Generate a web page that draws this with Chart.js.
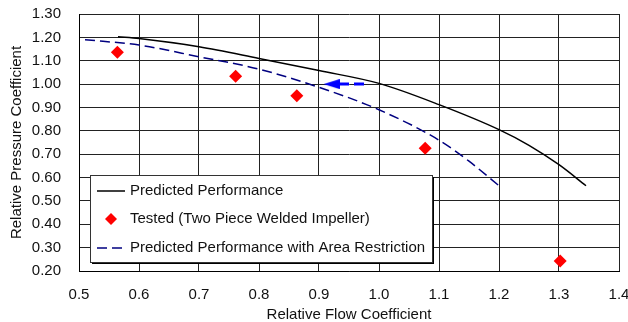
<!DOCTYPE html>
<html>
<head>
<meta charset="utf-8">
<script src="https://cdn.jsdelivr.net/npm/chart.js@4.4.1/dist/chart.umd.min.js"></script>
<style>
  html, body { margin: 0; padding: 0; background: #fff; }
  canvas { display: block; }
</style>
</head>
<body>
<canvas id="perfChart" width="628" height="322"></canvas>
<script>
// Predicted Performance (solid)
const predFlow     = [0.565, 0.60, 0.70, 0.80, 0.90, 1.00, 1.10, 1.20, 1.25, 1.30, 1.345];
const predPressure = [1.203, 1.195, 1.160, 1.110, 1.058, 1.003, 0.912, 0.805, 0.738, 0.655, 0.565];

// Predicted Performance with Area Restriction (dashed)
const areaFlow     = [0.51, 0.60, 0.70, 0.80, 0.90, 1.00, 1.10, 1.15, 1.20];
const areaPressure = [1.190, 1.167, 1.117, 1.064, 0.986, 0.890, 0.760, 0.670, 0.565];

// Tested (Two Piece Welded Impeller)
const testFlow     = [0.564, 0.761, 0.863, 1.077, 1.302];
const testPressure = [1.136, 1.034, 0.950, 0.725, 0.243];

// blue arrow (moving left along 1.00)
const arrowFlow     = [0.975, 0.921];
const arrowPressure = [1.00, 1.00];

const seriesLabels = [
  'Predicted Performance',
  'Tested (Two Piece Welded Impeller)',
  'Predicted Performance with Area Restriction'
];

const FONT = "'Liberation Sans', Arial, sans-serif";
const TXT = '#111';

function toPoints(xs, ys) {
  return xs.map((x, i) => ({ x: x, y: ys[i] }));
}

// arrow head as a little canvas used for pointStyle
const arrowHead = document.createElement('canvas');
arrowHead.width = 16;
arrowHead.height = 10;
(function () {
  const c = arrowHead.getContext('2d');
  c.fillStyle = '#0000ff';
  c.beginPath();
  c.moveTo(0, 5);
  c.lineTo(16, 0);
  c.lineTo(16, 10);
  c.closePath();
  c.fill();
})();

// legend box drawn inside the plot area
const boxLegend = {
  id: 'boxLegend',
  afterDraw(chart) {
    const ctx = chart.ctx;
    const area = chart.chartArea;
    const x0 = area.left + 11;
    const y0 = area.bottom - 96;
    const w = 342, h = 87;
    ctx.save();
    ctx.fillStyle = '#000';
    ctx.fillRect(x0 + 2, y0 + 2, w, h);
    ctx.fillStyle = '#fff';
    ctx.fillRect(x0, y0, w, h);
    ctx.strokeStyle = '#333';
    ctx.lineWidth = 1;
    ctx.strokeRect(x0 + 0.5, y0 + 0.5, w, h);

    const rows = [y0 + 16, y0 + 44, y0 + 73];
    const sx = x0 + 7, ex = x0 + 35;

    // solid line sample
    ctx.strokeStyle = '#000';
    ctx.lineWidth = 1.5;
    ctx.beginPath();
    ctx.moveTo(sx, rows[0]);
    ctx.lineTo(ex, rows[0]);
    ctx.stroke();

    // diamond sample
    ctx.fillStyle = '#ff0000';
    const cx = (sx + ex) / 2, cy = rows[1];
    ctx.beginPath();
    ctx.moveTo(cx, cy - 6);
    ctx.lineTo(cx + 6, cy);
    ctx.lineTo(cx, cy + 6);
    ctx.lineTo(cx - 6, cy);
    ctx.closePath();
    ctx.fill();

    // dashed sample
    ctx.strokeStyle = '#000080';
    ctx.lineWidth = 1.5;
    ctx.setLineDash([10, 5]);
    ctx.beginPath();
    ctx.moveTo(sx, rows[2]);
    ctx.lineTo(ex, rows[2]);
    ctx.stroke();
    ctx.setLineDash([]);

    ctx.fillStyle = TXT;
    ctx.font = '15px ' + FONT;
    ctx.textBaseline = 'middle';
    ctx.textAlign = 'left';
    seriesLabels.forEach((t, i) => ctx.fillText(t, x0 + 40, rows[i]));
    ctx.restore();
  }
};

const config = {
  type: 'line',
  data: {
    datasets: [
      {
        label: seriesLabels[0],
        data: toPoints(predFlow, predPressure),
        borderColor: '#000',
        borderWidth: 1.5,
        pointRadius: 0,
        cubicInterpolationMode: 'monotone',
        fill: false,
        order: 2
      },
      {
        label: seriesLabels[1],
        data: toPoints(testFlow, testPressure),
        showLine: false,
        pointStyle: 'rectRot',
        pointRadius: 6.5,
        pointBackgroundColor: '#ff0000',
        pointBorderColor: '#ff0000',
        pointBorderWidth: 0,
        order: 1
      },
      {
        label: seriesLabels[2],
        data: toPoints(areaFlow, areaPressure),
        borderColor: '#000080',
        borderWidth: 1.5,
        borderDash: [10, 5],
        pointRadius: 0,
        cubicInterpolationMode: 'monotone',
        fill: false,
        order: 3
      },
      {
        label: 'arrow',
        data: toPoints(arrowFlow, arrowPressure),
        borderColor: '#0000ff',
        borderWidth: 3,
        borderDash: [10, 5],
        pointStyle: ['circle', arrowHead],
        pointRadius: [0, 5],
        fill: false,
        order: 0
      }
    ]
  },
  options: {
    responsive: false,
    animation: false,
    layout: { padding: { left: 0, top: 14, right: 9, bottom: 0 } },
    plugins: {
      legend: { display: false },
      tooltip: { enabled: false }
    },
    scales: {
      x: {
        type: 'linear',
        min: 0.5,
        max: 1.4,
        afterFit: s => { s.height = 51; s.paddingLeft = 0; s.paddingRight = 0; },
        grid: { color: '#222', lineWidth: 1, drawTicks: false },
        border: { color: '#000', width: 1 },
        ticks: {
          stepSize: 0.1,
          padding: 15,
          color: TXT,
          font: { family: FONT, size: 15 },
          maxRotation: 0,
          callback: v => Number(v).toFixed(1)
        },
        title: {
          display: true,
          text: 'Relative Flow Coefficient',
          color: TXT,
          font: { family: FONT, size: 15 },
          padding: { top: 0, bottom: -2 }
        }
      },
      y: {
        min: 0.2,
        max: 1.3,
        afterFit: s => { s.width = 79; s.paddingTop = 0; s.paddingBottom = 0; },
        grid: { color: '#222', lineWidth: 1, drawTicks: false },
        border: { color: '#000', width: 1 },
        ticks: {
          stepSize: 0.1,
          padding: 18,
          color: TXT,
          font: { family: FONT, size: 15 },
          callback: v => Number(v).toFixed(2)
        },
        title: {
          display: true,
          text: 'Relative Pressure Coefficient',
          color: TXT,
          font: { family: FONT, size: 15 },
          padding: { top: 8, bottom: 0 }
        }
      }
    }
  },
  plugins: [boxLegend]
};

const perfChart = new Chart(document.getElementById('perfChart'), config);
</script>
</body>
</html>
